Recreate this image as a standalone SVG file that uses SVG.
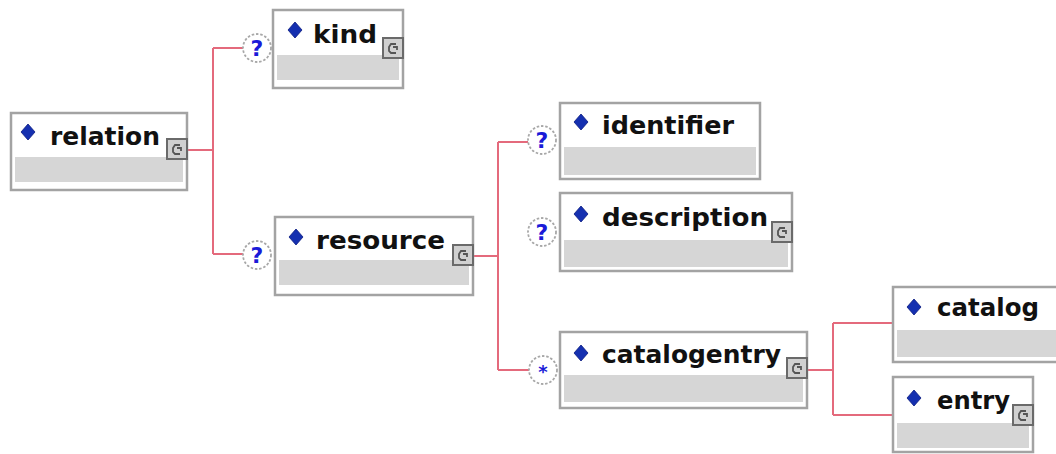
<svg xmlns="http://www.w3.org/2000/svg" width="1056" height="454" viewBox="0 0 1056 454">
<defs>
<style>
.box{fill:#ffffff;stroke:#a3a3a3;stroke-width:2.5}
.band{fill:#d6d6d6}
.lbl{font-family:"DejaVu Sans",Verdana,sans-serif;font-weight:bold;font-size:25px;fill:#111}
.dia{fill:#1530b0;stroke:#0a1a80;stroke-width:0.8}
.icon{fill:#d0d0d0;stroke:#6a6a6a;stroke-width:2}
.iconmark{fill:none;stroke:#555;stroke-width:1.8}
.occ{fill:#ffffff;stroke:#a8a8a8;stroke-width:1.8;stroke-dasharray:2.5 1.8}
.q{font-family:"DejaVu Sans",Verdana,sans-serif;font-weight:bold;font-size:22px;fill:#1a1ad8;text-anchor:middle}
.conn{fill:none;stroke:#e46a7c;stroke-width:2}
</style>
<polygon id="d" class="dia" points="0,-8 7,0 0,8 -7,0"/>
<g id="ic">
<rect class="icon" x="0" y="0" width="20" height="20"/>
<path class="iconmark" d="M13,6 L8,6 L6,9 L6,13 L8,15 L13,15 M10,9 L14,9 L14,12"/>
</g>
</defs>

<g id="connectors">
<path class="conn" d="M187,150 H213 M213,48 V254 M213,48 H243 M213,254 H243"/>
<path class="conn" d="M473,256 H498 M498,142 V370 M498,142 H528 M498,370 H529"/>
<path class="conn" d="M807,370 H833 M833,323 V415 M833,323 H893 M833,415 H893"/>
</g>

<g id="relation">
<rect class="box" x="11" y="113" width="176" height="77"/>
<rect class="band" x="15" y="157" width="168" height="25"/>
<use href="#d" x="28" y="132"/>
<text class="lbl" x="50" y="145" textLength="110" lengthAdjust="spacingAndGlyphs">relation</text>
<use href="#ic" x="167" y="139"/>
</g>

<g id="kind">
<circle class="occ" cx="257" cy="48" r="14"/>
<text class="q" x="257" y="56">?</text>
<rect class="box" x="273" y="10" width="130" height="78"/>
<rect class="band" x="277" y="55" width="122" height="25"/>
<use href="#d" x="295" y="30"/>
<text class="lbl" x="313" y="43" textLength="64" lengthAdjust="spacingAndGlyphs">kind</text>
<use href="#ic" x="383" y="38"/>
</g>

<g id="resource">
<circle class="occ" cx="257" cy="255" r="14"/>
<text class="q" x="257" y="263">?</text>
<rect class="box" x="275" y="217" width="198" height="78"/>
<rect class="band" x="279" y="260" width="190" height="25"/>
<use href="#d" x="296" y="237"/>
<text class="lbl" x="316" y="249" textLength="129" lengthAdjust="spacingAndGlyphs">resource</text>
<use href="#ic" x="453" y="245"/>
</g>

<g id="identifier">
<circle class="occ" cx="542" cy="140" r="14"/>
<text class="q" x="542" y="148">?</text>
<rect class="box" x="560" y="103" width="200" height="76"/>
<rect class="band" x="564" y="147" width="192" height="28"/>
<use href="#d" x="581" y="122"/>
<text class="lbl" x="602" y="134" textLength="132" lengthAdjust="spacingAndGlyphs">identifier</text>
</g>

<g id="description">
<circle class="occ" cx="542" cy="232" r="14"/>
<text class="q" x="542" y="240">?</text>
<rect class="box" x="560" y="193" width="232" height="78"/>
<rect class="band" x="564" y="240" width="224" height="27"/>
<use href="#d" x="581" y="214"/>
<text class="lbl" x="602" y="226" textLength="166" lengthAdjust="spacingAndGlyphs">description</text>
<use href="#ic" x="772" y="222"/>
</g>

<g id="catalogentry">
<circle class="occ" cx="543" cy="370" r="14"/>
<text class="q" x="543" y="378" style="font-size:18px">*</text>
<rect class="box" x="560" y="332" width="247" height="76"/>
<rect class="band" x="564" y="375" width="239" height="27"/>
<use href="#d" x="581" y="353"/>
<text class="lbl" x="602" y="363" textLength="179" lengthAdjust="spacingAndGlyphs">catalogentry</text>
<use href="#ic" x="787" y="358"/>
</g>

<g id="catalog">
<rect class="box" x="893" y="287" width="175" height="75"/>
<rect class="band" x="897" y="330" width="167" height="27"/>
<use href="#d" x="914" y="307"/>
<text class="lbl" x="937" y="316" textLength="102" lengthAdjust="spacingAndGlyphs">catalog</text>
</g>

<g id="entry">
<rect class="box" x="893" y="377" width="140" height="75"/>
<rect class="band" x="897" y="423" width="132" height="25"/>
<use href="#d" x="914" y="398"/>
<text class="lbl" x="937" y="409" textLength="73" lengthAdjust="spacingAndGlyphs">entry</text>
<use href="#ic" x="1013" y="405"/>
</g>
</svg>
